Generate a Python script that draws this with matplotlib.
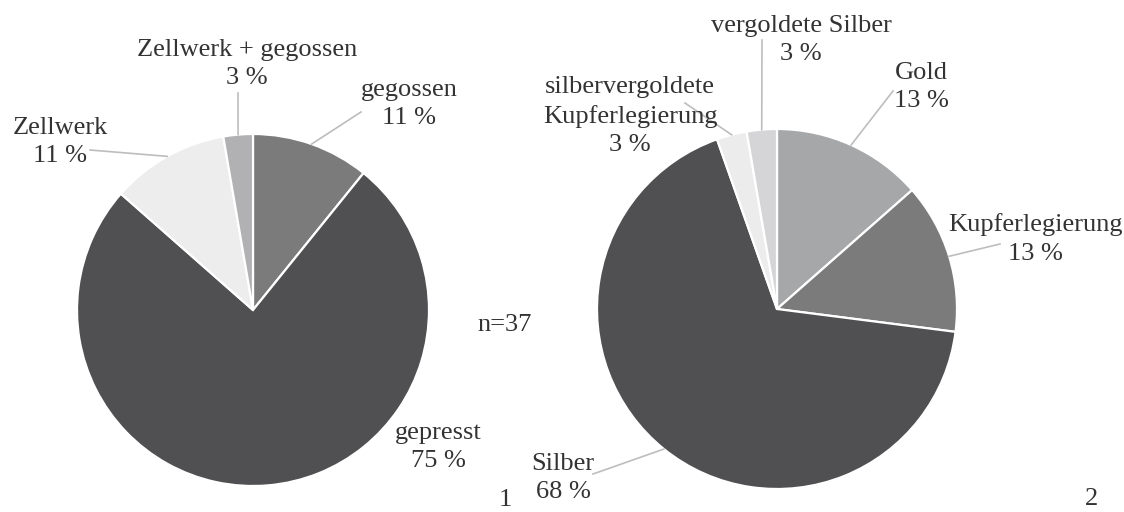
#!/usr/bin/env python3

"""Two pie charts: manufacturing technique and material of the finds (n=37)."""

import numpy as np
import matplotlib.pyplot as plt

W, H = 1124, 512

# pie 1: technique (counts out of 37)
tech_labels = ["gegossen", "gepresst", "Zellwerk", "Zellwerk + gegossen"]
tech_counts = [4, 28, 4, 1]
tech_pct = [11, 75, 11, 3]
tech_colors = ["#7b7b7c", "#505052", "#ededee", "#b1b1b3"]

# pie 2: material (counts out of 37)
mat_labels = ["Gold", "Kupferlegierung", "Silber",
              "silbervergoldete\nKupferlegierung", "vergoldete Silber"]
mat_counts = [5, 5, 25, 1, 1]
mat_pct = [13, 13, 68, 3, 3]
mat_colors = ["#a6a7a9", "#7b7b7c", "#505052", "#ececed", "#d5d5d7"]

n_total = 37

# label placement in pixels from top-left: (text x, text y, leader end x, leader end y or None)
tech_pos = [(409, 104, 361, 112), (438, 447, None, None),
            (60, 142, 90, 150), (247, 64, 238, 93)]
mat_pos = [(921, 87, 893, 91), (1035, 239, 1000, 244), (563, 478, 593, 474),
           (630, 116, 685, 103), (801, 40, 762, 40)]

TEXT = "#333333"
LEADER = "#bdbdbd"
plt.rcParams["font.family"] = ["Liberation Serif", "DejaVu Serif"]

fig = plt.figure(figsize=(W / 100, H / 100), dpi=100)
ax = fig.add_axes([0, 0, 1, 1])


def fy(y):
    return H - y


def draw_pie(counts, colors, labels, pct, pos, cx, cy, r):
    wedges, _ = ax.pie(counts, colors=colors, startangle=90, counterclock=False,
                       center=(cx, fy(cy)), radius=r,
                       wedgeprops=dict(edgecolor="white", linewidth=1.6))
    for w, lab, p, (tx, ty, lx, ly) in zip(wedges, labels, pct, pos):
        ax.text(tx, fy(ty), "%s\n%d %%" % (lab, p), ha="center", va="center",
                fontsize=19, color=TEXT, linespacing=1.4)
        if lx is None:
            continue
        mid = np.deg2rad((w.theta1 + w.theta2) / 2)
        px = cx + r * np.cos(mid)
        py = fy(cy) + r * np.sin(mid)
        ax.plot([lx, px], [fy(ly), py], color=LEADER, lw=1.2)


draw_pie(tech_counts, tech_colors, tech_labels, tech_pct, tech_pos, 253, 310, 176)
draw_pie(mat_counts, mat_colors, mat_labels, mat_pct, mat_pos, 777, 309, 180)

ax.text(505, fy(325), "n=%d" % n_total, ha="center", va="center", fontsize=19, color=TEXT)
ax.text(505, fy(500), "1", ha="center", va="center", fontsize=19, color=TEXT)
ax.text(1092, fy(499), "2", ha="center", va="center", fontsize=19, color=TEXT)

ax.set_xlim(0, W)
ax.set_ylim(0, H)
ax.set_aspect("equal")
ax.axis("off")

fig.savefig("out.png", dpi=100, facecolor="white")
